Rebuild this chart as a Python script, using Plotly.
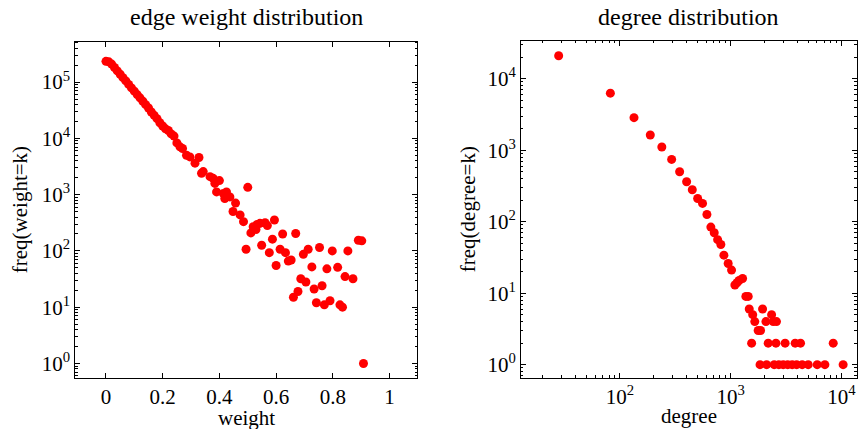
import plotly.graph_objects as go

# ---- edge weight distribution (left) ----
weight = [0.00, 0.01, 0.02, 0.03, 0.04, 0.05, 0.06, 0.07, 0.08, 0.09,
          0.10, 0.11, 0.12, 0.13, 0.14, 0.15, 0.16, 0.17, 0.18, 0.19,
          0.20, 0.21, 0.22, 0.23, 0.24, 0.25, 0.261, 0.27, 0.284, 0.296,
          0.314, 0.328, 0.337, 0.343, 0.367, 0.378, 0.384, 0.39, 0.40, 0.414,
          0.419, 0.425, 0.437, 0.448, 0.457, 0.473, 0.485, 0.494, 0.50, 0.511,
          0.519, 0.529, 0.533, 0.543, 0.549, 0.561, 0.569, 0.576, 0.587, 0.594,
          0.60, 0.614, 0.623, 0.633, 0.643, 0.653, 0.661, 0.669, 0.677, 0.687,
          0.696, 0.705, 0.713, 0.726, 0.734, 0.742, 0.753, 0.762, 0.770, 0.779,
          0.790, 0.798, 0.817, 0.825, 0.834, 0.843, 0.853, 0.871, 0.890, 0.902,
          0.908]
weight_freq = [234000, 229000, 209000, 182000, 158000, 138000, 120000, 105000, 91000, 79000,
               69000, 60000, 52500, 45700, 39800, 34700, 29500, 25700, 22400, 19000,
               16600, 14800, 13800, 12000, 11000, 8300, 7080, 6600, 5010, 4680,
               3630, 4570, 2400, 2570, 2090, 1950, 1585, 1120, 1780, 1050,
               850, 1120, 912, 501, 708, 437, 331, 107, 1349, 209,
               269, 240, 295, 309, 126, 316, 282, 93, 162, 355,
               55, 107, 200, 93, 66, 69, 15, 204, 19, 32,
               87, 28, 107, 52, 21, 12, 115, 24, 11, 48,
               13, 100, 51, 11, 10, 35, 100, 32, 155, 151,
               1]

# ---- degree distribution (right) ----
degree = [28, 82, 134, 188, 239, 293, 346, 400, 450, 503,
          557, 610, 662, 710, 762, 815, 868, 949, 1018, 1091,
          1140, 1190, 1280, 1370, 1440, 1470, 1580, 1650, 1770, 1860,
          1940, 2080, 2340, 2420, 2590,
          1545, 2180, 2560, 3100, 3820, 4270, 8420,
          1840, 2110, 2470, 2720, 2980, 3270, 3590, 3940, 4420, 5010,
          6040, 7080, 10350]
degree_freq = [20900, 6270, 2850, 1630, 1105, 743, 498, 361, 279, 211,
               180, 126, 84, 70, 56, 48, 34, 26, 21, 13,
               14, 15, 16, 9, 9, 6, 5, 4, 3, 3,
               6, 4, 5, 4, 4,
               2, 2, 2, 2, 2, 2, 2,
               1, 1, 1, 1, 1, 1, 1, 1, 1, 1,
               1, 1, 1]

weight_ticks = [0, 0.2, 0.4, 0.6, 0.8, 1]
weight_ticktext = ["0", "0.2", "0.4", "0.6", "0.8", "1"]
wfreq_ticks = [1, 10, 100, 1000, 10000, 100000]
wfreq_ticktext = ["10<sup>0</sup>", "10<sup>1</sup>", "10<sup>2</sup>",
                  "10<sup>3</sup>", "10<sup>4</sup>", "10<sup>5</sup>"]
degree_ticks = [100, 1000, 10000]
degree_ticktext = ["10<sup>2</sup>", "10<sup>3</sup>", "10<sup>4</sup>"]
dfreq_ticks = [1, 10, 100, 1000, 10000]
dfreq_ticktext = ["10<sup>0</sup>", "10<sup>1</sup>", "10<sup>2</sup>",
                  "10<sup>3</sup>", "10<sup>4</sup>"]

FONT = "Liberation Serif"
RED = "#ff0000"

fig = go.Figure()
fig.add_trace(go.Scatter(x=weight, y=weight_freq, mode="markers",
                         marker=dict(color=RED, size=9, line=dict(width=0)),
                         xaxis="x", yaxis="y", showlegend=False))
fig.add_trace(go.Scatter(x=degree, y=degree_freq, mode="markers",
                         marker=dict(color=RED, size=9, line=dict(width=0)),
                         xaxis="x2", yaxis="y2", showlegend=False))

common = dict(showline=True, linecolor="black", linewidth=1, mirror="ticks",
              ticks="inside", ticklen=5, tickcolor="black", showgrid=False,
              zeroline=False, automargin=False,
              tickfont=dict(family=FONT, size=21, color="black"))
minor = dict(ticks="inside", ticklen=2.5, tickcolor="black", dtick="D1", showgrid=False)
title_font = dict(family=FONT, size=21, color="black")

L0, L1 = 0.0876, 0.4853
R0, R1 = 0.6058, 0.9965

fig.update_layout(
    width=860, height=429,
    margin=dict(l=0, r=0, t=0, b=0, autoexpand=False),
    paper_bgcolor="white", plot_bgcolor="white",
    font=dict(family=FONT, color="black"),
    xaxis=dict(domain=[L0, L1], range=[-0.108, 1.098],
               tickmode="array", tickvals=weight_ticks, ticktext=weight_ticktext,
               anchor="y", **common),
    yaxis=dict(domain=[0.12, 0.903], type="log", range=[-0.25, 5.72],
               tickmode="array", tickvals=wfreq_ticks, ticktext=wfreq_ticktext,
               minor=minor,
               title=dict(text="freq(weight=k)", font=title_font, standoff=8),
               anchor="x", **common),
    xaxis2=dict(domain=[R0, R1], type="log", range=[1.107, 4.14],
                tickmode="array", tickvals=degree_ticks, ticktext=degree_ticktext,
                minor=minor,
                anchor="y2", **common),
    yaxis2=dict(domain=[0.12, 0.905], type="log", range=[-0.18, 4.53],
                tickmode="array", tickvals=dfreq_ticks, ticktext=dfreq_ticktext,
                minor=minor,
                title=dict(text="freq(degree=k)", font=title_font, standoff=6),
                anchor="x2", **common),
    annotations=[
        dict(text="edge weight distribution", x=(L0 + L1) / 2, y=1 - 17 / 429,
             xref="paper", yref="paper", showarrow=False, xanchor="center", yanchor="middle",
             font=dict(family=FONT, size=24, color="black")),
        dict(text="degree distribution", x=(R0 + R1) / 2, y=1 - 17 / 429,
             xref="paper", yref="paper", showarrow=False, xanchor="center", yanchor="middle",
             font=dict(family=FONT, size=24, color="black")),
        dict(text="weight", x=(L0 + L1) / 2, y=1 - 418 / 429,
             xref="paper", yref="paper", showarrow=False, xanchor="center", yanchor="middle",
             font=title_font),
        dict(text="degree", x=(R0 + R1) / 2, y=1 - 416 / 429,
             xref="paper", yref="paper", showarrow=False, xanchor="center", yanchor="middle",
             font=title_font),
    ],
)

fig.write_html("out.html", config={"displayModeBar": False},
               post_script="document.body.style.margin='0';document.body.style.overflow='hidden';")
